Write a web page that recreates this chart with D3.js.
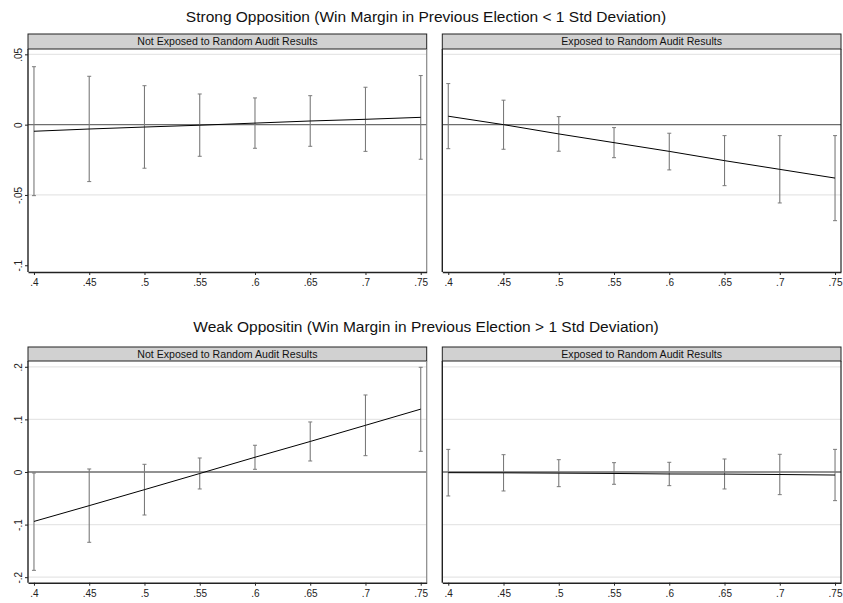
<!DOCTYPE html>
<html>
<head>
<meta charset="utf-8">
<script src="https://cdn.jsdelivr.net/npm/d3@7"></script>
<style>
  body { margin: 0; background: #fff; }
  text { font-family: "Liberation Sans", Arial, sans-serif; }
</style>
</head>
<body>
<svg id="chart" width="843" height="603"></svg>
<script>
// --- données ---
const xVals = [0.4, 0.45, 0.5, 0.55, 0.6, 0.65, 0.7, 0.75];
const xTicks = [0.4, 0.45, 0.5, 0.55, 0.6, 0.65, 0.7, 0.75];
const xTickLabels = [".4", ".45", ".5", ".55", ".6", ".65", ".7", ".75"];

const rowTitles = [
    "Strong Opposition (Win Margin in Previous Election < 1 Std Deviation)",
    "Weak Oppositin (Win Margin in Previous Election > 1 Std Deviation)"
];
const panelTitles = ["Not Exposed to Random Audit Results", "Exposed to Random Audit Results"];

const topYTicks = [0.05, 0, -0.05, -0.1];
const topYLabels = [".05", "0", "-.05", "-.1"];
const botYTicks = [0.2, 0.1, 0, -0.1, -0.2];
const botYLabels = [".2", ".1", "0", "-.1", "-.2"];

// forte opposition, non exposé
const strongNotEst = [-0.0047, -0.0031, -0.0017, -0.0004, 0.0011, 0.0026, 0.0038, 0.0052];
const strongNotLo  = [-0.0505, -0.0405, -0.0310, -0.0225, -0.0168, -0.0154, -0.0190, -0.0246];
const strongNotHi  = [0.0412, 0.0344, 0.0277, 0.0218, 0.0190, 0.0206, 0.0266, 0.0349];
// forte opposition, exposé
const strongExpEst = [0.0060, 0.0000, -0.0066, -0.0128, -0.0190, -0.0256, -0.0318, -0.0380];
const strongExpLo  = [-0.0171, -0.0175, -0.0189, -0.0235, -0.0322, -0.0434, -0.0557, -0.0683];
const strongExpHi  = [0.0292, 0.0174, 0.0057, -0.0021, -0.0061, -0.0078, -0.0078, -0.0078];
// faible opposition, non exposé
const weakNotEst = [-0.0940, -0.0640, -0.0336, -0.0029, 0.0280, 0.0580, 0.0887, 0.1195];
const weakNotLo  = [-0.1870, -0.1337, -0.0818, -0.0323, 0.0051, 0.0209, 0.0310, 0.0393];
const weakNotHi  = [-0.0019, 0.0057, 0.0146, 0.0266, 0.0508, 0.0951, 0.1464, 0.1990];
// faible opposition, exposé
const weakExpEst = [-0.0013, -0.0016, -0.0022, -0.0028, -0.0038, -0.0040, -0.0048, -0.0058];
const weakExpLo  = [-0.0456, -0.0361, -0.0279, -0.0234, -0.0260, -0.0323, -0.0431, -0.0545];
const weakExpHi  = [0.0430, 0.0329, 0.0234, 0.0177, 0.0184, 0.0247, 0.0336, 0.0430];

const svg = d3.select("#chart");

// Géométrie
const panelX = [[28, 426.7], [442.3, 841]];
const rows = [
    {title: rowTitles[0], titleY: 21.5, headTop: 34, plotTop: 49, plotBot: 272,
     yDomain: [-0.1048, 0.0538], ticks: topYTicks, labels: topYLabels, grid: [0.05, -0.05],
     panels: [[strongNotEst, strongNotLo, strongNotHi], [strongExpEst, strongExpLo, strongExpHi]]},
    {title: rowTitles[1], titleY: 331.5, headTop: 347, plotTop: 361, plotBot: 582.7,
     yDomain: [-0.2105, 0.211], ticks: botYTicks, labels: botYLabels, grid: [0.2, 0.1, -0.1, -0.2],
     panels: [[weakNotEst, weakNotLo, weakNotHi], [weakExpEst, weakExpLo, weakExpHi]]}
];

rows.forEach(row => {
    svg.append("text")
        .attr("x", 426)
        .attr("y", row.titleY)
        .attr("text-anchor", "middle")
        .attr("font-size", 15.5)
        .attr("fill", "#111")
        .text(row.title);

    const y = d3.scaleLinear().domain(row.yDomain).range([row.plotBot, row.plotTop]);

    row.panels.forEach((p, pi) => {
        const [est, lo, hi] = p;
        const x = d3.scaleLinear().domain([0.3946, 0.7554]).range(panelX[pi]);
        const g = svg.append("g");
        const x0 = panelX[pi][0], x1 = panelX[pi][1];

        // bandeau titre
        g.append("rect")
            .attr("x", x0).attr("y", row.headTop)
            .attr("width", x1 - x0).attr("height", row.plotTop - row.headTop)
            .attr("fill", "#d1d1d1").attr("stroke", "#222").attr("stroke-width", 1);
        g.append("text")
            .attr("x", (x0 + x1) / 2).attr("y", row.headTop + 10.5)
            .attr("text-anchor", "middle").attr("font-size", 10.6).attr("fill", "#111")
            .text(panelTitles[pi]);

        // grille
        g.selectAll(".grid").data(row.grid).enter().append("line")
            .attr("x1", x0).attr("x2", x1)
            .attr("y1", d => y(d)).attr("y2", d => y(d))
            .attr("stroke", "#e6e6e6").attr("stroke-width", 1.2);

        // ligne zéro
        g.append("line")
            .attr("x1", x0).attr("x2", x1)
            .attr("y1", y(0)).attr("y2", y(0))
            .attr("stroke", "#6e6e6e").attr("stroke-width", 1.3);

        // barres d'erreur
        const bars = g.selectAll(".ci").data(xVals).enter().append("g");
        bars.append("line")
            .attr("x1", d => x(d)).attr("x2", d => x(d))
            .attr("y1", (d, i) => y(lo[i])).attr("y2", (d, i) => y(hi[i]))
            .attr("stroke", "#7a7a7a").attr("stroke-width", 1.1);
        bars.append("line")
            .attr("x1", d => x(d) - 2).attr("x2", d => x(d) + 2)
            .attr("y1", (d, i) => y(lo[i])).attr("y2", (d, i) => y(lo[i]))
            .attr("stroke", "#7a7a7a").attr("stroke-width", 1);
        bars.append("line")
            .attr("x1", d => x(d) - 2).attr("x2", d => x(d) + 2)
            .attr("y1", (d, i) => y(hi[i])).attr("y2", (d, i) => y(hi[i]))
            .attr("stroke", "#7a7a7a").attr("stroke-width", 1);

        // ligne des estimations
        g.append("path")
            .datum(xVals)
            .attr("d", d3.line().x(d => x(d)).y((d, i) => y(est[i])))
            .attr("fill", "none").attr("stroke", "#000").attr("stroke-width", 1);

        // cadre
        g.append("line").attr("x1", x1).attr("x2", x1).attr("y1", row.plotTop).attr("y2", row.plotBot)
            .attr("stroke", pi === 0 ? "#888" : "#222").attr("stroke-width", 1.2);
        g.append("line").attr("x1", x0).attr("x2", x0).attr("y1", row.plotTop).attr("y2", row.plotBot)
            .attr("stroke", "#222").attr("stroke-width", 1.4);

        // axe x
        const xAxis = g.append("g")
            .attr("transform", `translate(0,${row.plotBot})`)
            .call(d3.axisBottom(x).tickValues(xTicks)
                .tickFormat((d, i) => xTickLabels[i]).tickSize(3).tickSizeOuter(0));
        xAxis.select(".domain").attr("stroke", "#222").attr("stroke-width", 1.4);
        xAxis.selectAll(".tick line").attr("stroke", "#222");
        xAxis.selectAll("text").attr("font-size", 10).attr("fill", "#222")
            .attr("font-family", "Liberation Sans, Arial, sans-serif").attr("dy", "0.8em");

        // axe y (panneau de gauche seulement)
        if (pi === 0) {
            const yAxis = g.append("g")
                .attr("transform", `translate(${x0},0)`)
                .call(d3.axisLeft(y).tickValues(row.ticks)
                    .tickFormat((d, i) => row.labels[i]).tickSize(3).tickSizeOuter(0));
            yAxis.select(".domain").remove();
            yAxis.selectAll(".tick line").attr("stroke", "#222");
            yAxis.selectAll("text")
                .attr("font-size", 10).attr("fill", "#222")
                .attr("font-family", "Liberation Sans, Arial, sans-serif")
                .attr("x", 0).attr("dy", 0)
                .attr("text-anchor", "middle")
                .attr("transform", "translate(-6,0) rotate(-90)");
        }
    });
});
</script>
</body>
</html>
